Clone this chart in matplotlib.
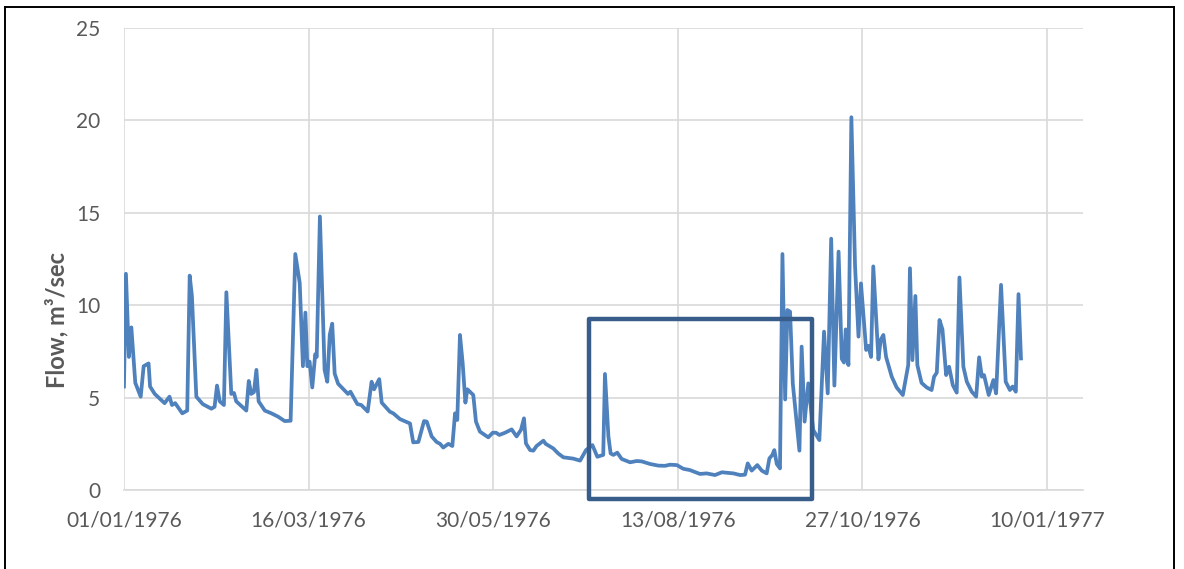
import matplotlib
matplotlib.use("Agg")
import matplotlib.pyplot as plt
import matplotlib.dates as mdates
from matplotlib.patches import Rectangle
from matplotlib.lines import Line2D
from datetime import datetime
import numpy as np

plt.rcParams['font.family'] = ['Lato', 'DejaVu Sans']

# days since 01/01/1976 and daily flow (m3/sec)
days = [0, 0.8, 2, 3, 4.6, 6.8, 8, 10, 10.6, 12.5, 16.5, 18.5, 19.5, 20.8, 23.7, 25.7,
        26.7, 27.6, 29.4, 32, 35.5, 36.8, 37.8, 38.9, 40.6, 41.6, 43.6, 44.7, 45.6,
        49.7, 50.7, 51.7, 52.8, 53.8, 54.7, 57.2, 59.9, 62.6, 65.3, 67.7, 69.6, 71.4,
        72.7, 73.7, 74.5, 75.4, 76.5, 77.7, 78.3, 79.6, 81.5, 82.6, 83.6, 84.6, 85.6,
        87, 91, 92, 94.8, 96.4, 99, 100.6, 101.6, 103.7, 104.7, 108, 109.4, 112.1,
        116.2, 117.5, 119.6, 121.9, 123, 125, 127, 128.4, 129.7, 131.8, 133.4, 134.5,
        135.4, 136.5, 137.6, 138.7, 139.5, 141.9, 143, 144.6, 148, 149.8, 151.2, 152.5,
        154.8, 157.5, 159.5, 161.3, 162.5, 163.3, 165, 166.3, 167.6, 170.4, 171.3,
        174.4, 176.4, 178.5, 182.5, 185.3, 187.7, 190.3, 192.3, 194.7, 195.4, 196.8,
        197.7, 198.8, 200.4, 202.2, 205.6, 208.3, 210.3, 213.7, 217.1, 219.8, 221.8,
        224.6, 227.2, 229.9, 234, 236.7, 240.1, 242.9, 247.6, 250.3, 252.3, 253.4, 255,
        257.3, 259.1, 261.1, 262.2, 263.4, 264.2, 265.2, 266.5, 267.5, 268.6, 269.5,
        270.6, 271.7, 274.4, 275.3, 276.5, 278, 280, 282.5, 284.4, 285.9, 287.3, 288.6,
        290.3, 291.6, 292.5, 293.2, 294.3, 295.5, 297, 298.4, 299.4, 301.5, 302.4,
        303.5, 304.4, 306.5, 307.4, 308.5, 309.6, 311.9, 313.9, 316.4, 318.6, 319.3,
        320.3, 321.5, 322.3, 324, 326.1, 328.1, 329.1, 330.2, 331.3, 332.5, 334, 335.2,
        336.7, 338.3, 339.4, 341, 342.4, 344.4, 346.2, 347.4, 348.5, 349.4, 351.3,
        353.2, 354.3, 356.3, 358.2, 359.9, 361, 362.3, 363.4, 364.4]
flow = [5.6, 11.7, 7.2, 8.8, 5.8, 5.05, 6.7, 6.85, 5.6, 5.2, 4.7, 5.05, 4.6, 4.7, 4.15, 4.3,
        11.6, 10.5, 5.05, 4.65, 4.4, 4.5, 5.65, 4.8, 4.6, 10.7, 5.2, 5.25, 4.8,
        4.3, 5.9, 5.2, 5.3, 6.5, 4.8, 4.3, 4.15, 3.97, 3.73, 3.75, 12.77, 11.2,
        6.7, 9.6, 6.7, 6.95, 5.55, 7.35, 7.2, 14.8, 6.5, 5.86, 8.4, 9.0, 6.3,
        5.75, 5.2, 5.32, 4.65, 4.6, 4.25, 5.86, 5.45, 6.0, 4.73, 4.24, 4.15, 3.84,
        3.6, 2.58, 2.6, 3.73, 3.7, 2.9, 2.6, 2.5, 2.3, 2.5, 2.38, 4.15,
        3.79, 8.39, 6.85, 4.73, 5.45, 5.14, 3.7, 3.16, 2.85, 3.1, 3.1, 2.98,
        3.1, 3.28, 2.9, 3.26, 3.88, 2.52, 2.16, 2.13, 2.38, 2.67, 2.5,
        2.25, 1.98, 1.77, 1.7, 1.59, 2.16, 2.43, 1.8, 1.9, 6.28, 2.9,
        1.98, 1.9, 2.02, 1.68, 1.5, 1.57, 1.55, 1.41, 1.32, 1.31, 1.37,
        1.35, 1.15, 1.08, 0.87, 0.9, 0.81, 0.96, 0.9, 0.81, 0.83, 1.44, 1.05,
        1.35, 1.05, 0.9, 1.71, 1.9, 2.16, 1.41, 1.17, 12.77, 4.9, 9.74,
        9.65, 5.77, 2.13, 7.76, 3.7, 5.77, 3.25, 2.7, 8.57, 5.23, 13.6, 5.65,
        12.9, 7.1, 6.9, 8.69, 6.76, 20.17, 12.1, 8.3, 11.18, 7.58, 7.8,
        7.2, 12.1, 7.07, 8.12, 8.39, 7.2, 6.13, 5.55, 5.14, 6.76, 12.0,
        7.03, 10.5, 6.76, 5.8, 5.55, 5.41, 6.13, 6.35, 9.2, 8.69, 6.22, 6.67,
        5.68, 5.27, 11.5, 6.67, 5.86, 5.32, 5.05, 7.18, 6.13, 6.22, 5.14,
        5.95, 5.23, 11.1, 5.86, 5.41, 5.6, 5.32, 10.6, 7.12]

tick_dates = [datetime(1976, 1, 1), datetime(1976, 3, 16), datetime(1976, 5, 30),
              datetime(1976, 8, 13), datetime(1976, 10, 27), datetime(1977, 1, 10)]
y_ticks = [0, 5, 10, 15, 20, 25]

start = mdates.date2num(datetime(1976, 1, 1))
x = start + np.array(days)

fig = plt.figure(figsize=(11.84, 5.69), dpi=100)
ax = fig.add_axes([0.1047, 0.1388, 0.81, 0.812])

ax.plot(x, flow, color='#4F81BD', lw=2.7, solid_joinstyle='round', zorder=3)

# highlight box around the summer drought
box = Rectangle((start + 188.9, -0.49), 90.6, 9.74, fill=False, edgecolor='#385D8A',
                lw=3.2, clip_on=False, zorder=4, joinstyle='round')
ax.add_patch(box)

ax.set_xlim(start, start + 389.6)
ax.set_ylim(0, 25)
ax.set_xticks(mdates.date2num(tick_dates))
ax.xaxis.set_major_formatter(mdates.DateFormatter('%d/%m/%Y'))
ax.set_yticks(y_ticks)

ax.grid(True, color='#D9D9D9', lw=1.2)
ax.set_axisbelow(True)
for s in ['top', 'right', 'left']:
    ax.spines[s].set_visible(False)
ax.spines['bottom'].set_color('#D9D9D9')
ax.spines['bottom'].set_linewidth(1.2)
ax.tick_params(axis='both', length=0, labelsize=15, labelcolor='#595959')
ax.tick_params(axis='x', pad=15)
ax.tick_params(axis='y', pad=17)

ax.set_ylabel('Flow, m³/sec', fontsize=17, fontweight='bold', color='#595959')
ax.yaxis.set_label_coords(-0.058, 0.368)

# black frame around the figure (left, top, right)
W, H = 1184, 569
for (x0, y0, x1, y1) in [(5, 569, 5, 7), (5, 7, 1174, 7), (1174, 7, 1174, 569)]:
    fig.add_artist(Line2D([x0 / W, x1 / W], [1 - y0 / H, 1 - y1 / H],
                          transform=fig.transFigure, color='black', lw=1.4))

fig.savefig('out.png', dpi=100)
